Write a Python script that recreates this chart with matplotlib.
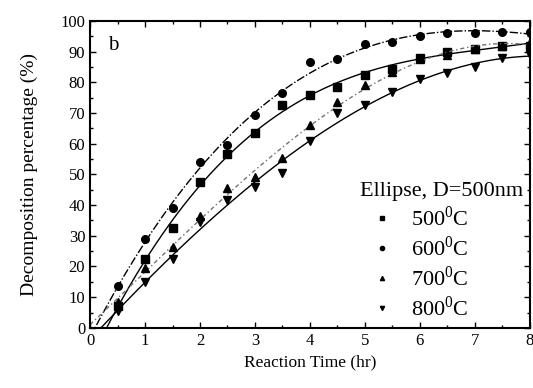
import numpy as np
import matplotlib
matplotlib.use("Agg")
import matplotlib.pyplot as plt
from matplotlib.ticker import MultipleLocator

plt.rcParams['font.family'] = ['Liberation Serif', 'DejaVu Serif']
plt.rcParams['mathtext.fontset'] = 'custom'
plt.rcParams['mathtext.rm'] = 'Liberation Serif'

# reaction time (hr)
time = [0.5, 1, 1.5, 2, 2.5, 3, 3.5, 4, 4.5, 5, 5.5, 6, 6.5, 7, 7.5, 8]

# decomposition percentage (%)
t500 = [7, 22.5, 32.5, 47.5, 56.5, 63.5, 72.5, 76, 78.5, 82.5, 84.5, 88, 90, 91, 92, 92]
t600 = [13.5, 29, 39, 54, 59.5, 69.5, 76.5, 86.5, 87.5, 92.5, 93, 95, 96, 96, 96.5, 96.5]
t700 = [8.5, 19.5, 26.5, 36.5, 45.5, 49, 55.5, 66, 73.5, 79, 83.5, 87.5, 89, 91, 92, 93]
t800 = [5.5, 15, 22.5, 34.5, 41.5, 46, 50.5, 61, 70, 72.5, 77, 81, 83, 85, 88, 89]

labels = ['500$^0$C', '600$^0$C', '700$^0$C', '800$^0$C']
markers = ['s', 'o', '^', 'v']
linestyles = ['-', (0, (6, 1.5, 1, 1.5)), (0, (3, 2, 1, 2)), '-']
linecolors = ['black', 'black', '0.45', 'black']

fig = plt.figure(figsize=(5.33, 3.88), dpi=100)
ax = fig.add_axes([0.169, 0.155, 0.825, 0.791])

xs = np.linspace(0, 8, 200)
for vals, lab, mk, ls, lc in zip([t500, t600, t700, t800], labels, markers, linestyles, linecolors):
    # fitted curve through the data points (polynomial fit)
    coef = np.polyfit(time, vals, 3)
    ax.plot(xs, np.polyval(coef, xs), ls=ls, color=lc, lw=1.0)
    ax.plot(time, vals, mk, color='black', ms=5.5, label=lab)

ax.set_xlim(0, 8)
ax.set_ylim(0, 100)
ax.xaxis.set_major_locator(MultipleLocator(1))
ax.xaxis.set_minor_locator(MultipleLocator(0.5))
ax.yaxis.set_major_locator(MultipleLocator(10))
ax.yaxis.set_minor_locator(MultipleLocator(5))
ax.tick_params(which='both', direction='in', top=True, right=True, labelsize=12)
ax.tick_params(which='major', length=4, width=1)
ax.tick_params(which='minor', length=2, width=1)
for sp in ax.spines.values():
    sp.set_linewidth(1.5)

ax.set_xlabel('Reaction Time (hr)', fontsize=12.5)
ax.set_ylabel('Decomposition percentage (%)', fontsize=14, labelpad=16)
ax.text(0.04, 0.92, 'b', transform=ax.transAxes, fontsize=15, va='center')

leg = ax.legend(title='Ellipse, D=500nm', loc='lower right', frameon=False,
                fontsize=16, title_fontsize=16, markerscale=0.55,
                handlelength=2.0, handletextpad=0.3, labelspacing=0.25,
                borderaxespad=0.1, borderpad=0.2)
leg._legend_box.align = 'left'

fig.savefig('out.png', dpi=100)
